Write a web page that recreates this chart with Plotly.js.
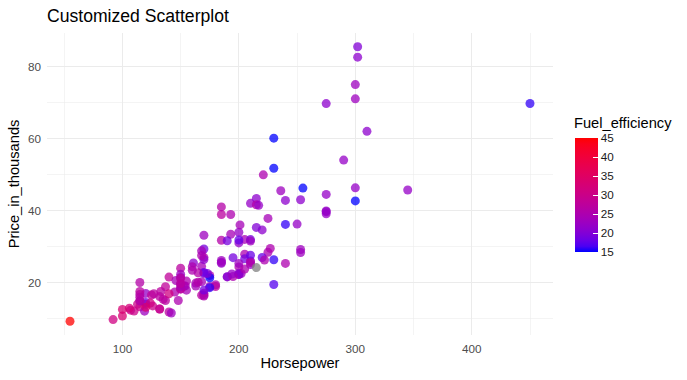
<!DOCTYPE html>
<html>
<head>
<meta charset="utf-8">
<script src="https://cdn.plot.ly/plotly-3.0.1.min.js"></script>
<style>html,body{margin:0;padding:0;background:#fff;}#chart{width:687px;height:380px;}</style>
</head>
<body>
<div id="chart"></div>
<script>
const models = ["Integra","TL","CL","RL","A4","A6","A8","323i","328i","528i","Century","Regal","Park Avenue","LeSabre","DeVille","Seville","Eldorado","Catera","Escalade","Cavalier","Malibu","Lumina","Monte Carlo","Camaro","Corvette","Prizm","Metro","Impala","Sebring Coupe","Sebring Conv.","Concorde","Cirrus","LHS","300M","Town & Country","Neon","Avenger","Stratus","Intrepid","Viper","Ram Pickup","Ram Wagon","Ram Van","Dakota","Durango","Caravan","Escort","Mustang","Contour","Taurus","Focus","Crown Victoria","Explorer","Windstar","Expedition","Ranger","F-Series","Civic","Accord","CR-V","Passport","Odyssey","Accent","Elantra","Sonata","I30","S-Type","Wrangler","Cherokee","Grand Cherokee","ES300","GS300","GS400","LS400","LX470","RX300","Continental","Town car","Navigator","Mirage","Eclipse","Galant","Diamante","3000GT","Montero","Montero Sport","Mystique","Cougar","Sable","Grand Marquis","Mountaineer","Villager","C-Class","E-Class","S-Class","SL-Class","SLK","SLK230","CLK Coupe","CL500","M-Class","Sentra","Altima","Maxima","Quest","Pathfinder","Xterra","Frontier","Cutlass","Intrigue","Alero","Aurora","Bravada","Silhouette","Neon","Breeze","Voyager","Prowler","Sunfire","Grand Am","Firebird","Grand Prix","Bonneville","Montana","Boxter","Carrera Coupe","Carrera Cabrio","5-Sep","3-Sep","SL","SC","SW","LW","LS","Outback","Forester","Corolla","Camry","Avalon","Celica","Tacoma","Sienna","RAV4","4Runner","Land Cruiser","Golf","Jetta","Passat","Cabrio","GTI","Beetle","S40","V40","S70","V70","C70","S80"];

const horsepower = [140,225,225,210,150,200,310,170,193,193,175,240,205,205,275,275,275,200,255,115,170,175,180,200,345,120,55,180,163,168,200,168,253,253,180,132,163,168,202,450,230,175,175,120,230,150,110,190,170,155,107,200,210,150,240,119,220,106,135,146,205,210,92,140,148,227,240,120,190,195,210,225,300,290,230,220,275,215,300,113,154,145,210,161,200,173,170,125,153,200,210,170,185,221,275,302,185,185,215,302,215,126,155,222,170,170,170,170,150,215,150,250,190,185,132,132,150,253,115,150,200,195,205,185,217,300,300,170,185,100,100,124,137,137,165,165,120,133,210,140,142,194,127,150,230,115,115,150,115,115,115,160,160,168,168,236,201];

const price_in_thousands = [21.5,28.4,null,42,23.99,33.95,62,26.99,33.4,38.9,21.975,25.3,31.965,27.885,39.895,44.475,39.665,31.01,46.225,13.26,16.535,18.89,19.39,24.34,45.705,13.96,9.235,18.89,19.84,24.495,22.245,16.48,28.34,29.185,null,12.64,19.045,20.23,22.505,69.725,19.46,21.315,18.575,16.98,26.31,19.565,12.07,21.56,17.035,17.885,12.315,22.195,31.93,21.41,36.135,12.05,26.935,12.885,15.35,20.55,26.6,26,9.699,11.799,14.999,29.465,42.8,14.46,21.62,26.895,31.505,37.805,46.305,54.005,60.105,34.605,39.08,43.33,42.66,13.987,19.047,17.357,24.997,25.45,31.807,22.527,16.24,16.54,19.035,22.605,27.56,22.51,31.75,49.9,69.7,82.6,38.9,41,41.6,85.5,35.3,13.499,20.39,26.249,26.399,29.299,22.799,17.89,18.145,24.15,18.27,36.229,31.598,25.345,12.64,16.08,18.85,43,14.9,19.72,25.31,21.665,23.755,25.635,41.43,71.02,74.97,33.12,26.1,10.685,12.535,14.29,18.835,15.01,22.695,20.095,13.108,17.518,25.545,16.875,11.528,22.368,16.888,22.288,51.728,14.9,16.7,21.2,19.99,17.5,15.9,23.4,24.4,27.5,28.8,45.5,36];

const fuel_efficiency = [28,25,26,22,27,22,21,26,24,25,25,25,24,25,22,22,22,22,15,30,25,24,25,25,22,33,45,27,24,24,26,27,23,23,24,29,24,24,23,16,17,15,16,22,16,24,30,24,25,24,30,21,19,21,16,23,18,32,27,24,19,23,31,27,25,25,21,19,20,19,23,24,22,22,15,21,22,21,15,30,24,25,22,21,18,20,25,28,24,21,18,21,26,25,21,21,27,26,26,20,20,30,25,25,21,19,18,19,27,null,27,22,19,22,29,27,24,21,27,27,23,25,25,23,22,23,23,23,23,33,33,31,28,27,26,26,33,27,26,31,23,22,27,23,15,26,26,27,26,27,26,25,25,25,24,23,24];

const colorTicks = [15,20,25,30,35,40,45];
const xTicks = [100,200,300,400];
const yTicks = [20,40,60,80];

// ggplot-style gradient (blue -> red) interpolated in CIE Lab
function toLin(c){c/=255;return c<=0.04045?c/12.92:Math.pow((c+0.055)/1.055,2.4);}
function fromLin(c){const v=c<=0.0031308?12.92*c:1.055*Math.pow(c,1/2.4)-0.055;return Math.max(0,Math.min(255,Math.round(v*255)));}
const Wn=[0.95047,1,1.08883];
function f(t){return t>0.008856?Math.cbrt(t):7.787*t+16/116;}
function fi(t){const t3=t*t*t;return t3>0.008856?t3:(t-16/116)/7.787;}
function rgb2lab(rgb){const [R,G,B]=rgb.map(toLin);
  const X=(0.4124564*R+0.3575761*G+0.1804375*B)/Wn[0];
  const Y=(0.2126729*R+0.7151522*G+0.0721750*B)/Wn[1];
  const Z=(0.0193339*R+0.1191920*G+0.9503041*B)/Wn[2];
  const fx=f(X),fy=f(Y),fz=f(Z);return [116*fy-16,500*(fx-fy),200*(fy-fz)];}
function lab2rgb(lab){const fy=(lab[0]+16)/116,fx=fy+lab[1]/500,fz=fy-lab[2]/200;
  const X=fi(fx)*Wn[0],Y=fi(fy)*Wn[1],Z=fi(fz)*Wn[2];
  const R=3.2404542*X-1.5371385*Y-0.4985314*Z;
  const G=-0.9692660*X+1.8760108*Y+0.0415560*Z;
  const B=0.0556434*X-0.2040259*Y+1.0572252*Z;
  return 'rgb('+fromLin(R)+','+fromLin(G)+','+fromLin(B)+')';}
const labLow=rgb2lab([0,0,255]), labHigh=rgb2lab([255,0,0]);
const colorscale=[];
for(let i=0;i<=20;i++){const t=i/20;colorscale.push([t,lab2rgb(labLow.map((v,k)=>v+(labHigh[k]-v)*t))]);}

const okIdx=[], naIdx=[];
for(let i=0;i<models.length;i++){ if(fuel_efficiency[i]===null) naIdx.push(i); else okIdx.push(i); }

const font='"Liberation Sans", Arial, sans-serif';
const mainTrace={
  type:'scatter', mode:'markers',
  x: okIdx.map(i=>horsepower[i]), y: okIdx.map(i=>price_in_thousands[i]),
  text: okIdx.map(i=>models[i]),
  marker:{size:9, color: okIdx.map(i=>fuel_efficiency[i]), cmin:15, cmax:45, colorscale:colorscale, opacity:0.75,
    line:{width:0},
    showscale:true,
    colorbar:{
      thicknessmode:'pixels', thickness:23, lenmode:'pixels', len:114,
      x:1.0435, xanchor:'left', xpad:0, y:0.274, yanchor:'bottom', ypad:0,
      outlinewidth:0, tickvals:colorTicks, ticks:'inside', ticklen:5, tickcolor:'#fff', tickwidth:1,
      tickfont:{family:font,size:11.7,color:'#1a1a1a'}
    }},
  showlegend:false, hoverinfo:'text+x+y'
};
const naTrace={
  type:'scatter', mode:'markers',
  x: naIdx.map(i=>horsepower[i]), y: naIdx.map(i=>price_in_thousands[i]),
  marker:{size:9, color:'#808080', opacity:0.75, line:{width:0}}, showlegend:false
};

const layout={
  width:687, height:380,
  margin:{l:47,r:134,t:33,b:45},
  paper_bgcolor:'#fff', plot_bgcolor:'#fff',
  font:{family:font},
  title:{text:'Customized Scatterplot', x:0, xref:'paper', xanchor:'left', y:1-16/380, yref:'container', yanchor:'middle',
    font:{family:font,size:17.6,color:'#000'}},
  annotations:[{text:'Fuel_efficiency', xref:'paper', yref:'paper', x:1.038, y:0.703, xanchor:'left', yanchor:'middle',
    showarrow:false, font:{family:font,size:14.67,color:'#000'}}],
  xaxis:{range:[35.25,469.75], tickvals:xTicks, showgrid:true, gridcolor:'#EBEBEB', gridwidth:1.07, zeroline:false, showline:false, ticks:'',
    ticklabelstandoff:5,
    tickfont:{family:font,size:11.7,color:'#4D4D4D'},
    minor:{tickvals:[50,150,250,350,450], showgrid:true, gridcolor:'#EBEBEB', gridwidth:0.53},
    title:{text:'Horsepower', font:{family:font,size:14.67,color:'#000'}, standoff:4}},
  yaxis:{range:[5.42,89.31], tickvals:yTicks, showgrid:true, gridcolor:'#EBEBEB', gridwidth:1.07, zeroline:false, showline:false, ticks:'',
    ticklabelstandoff:5,
    tickfont:{family:font,size:11.7,color:'#4D4D4D'},
    minor:{tickvals:[10,30,50,70], showgrid:true, gridcolor:'#EBEBEB', gridwidth:0.53},
    title:{text:'Price_in_thousands', font:{family:font,size:14.67,color:'#000'}, standoff:4}}
};
Plotly.newPlot('chart',[mainTrace,naTrace],layout,{staticPlot:true,displayModeBar:false});
</script>
</body>
</html>
